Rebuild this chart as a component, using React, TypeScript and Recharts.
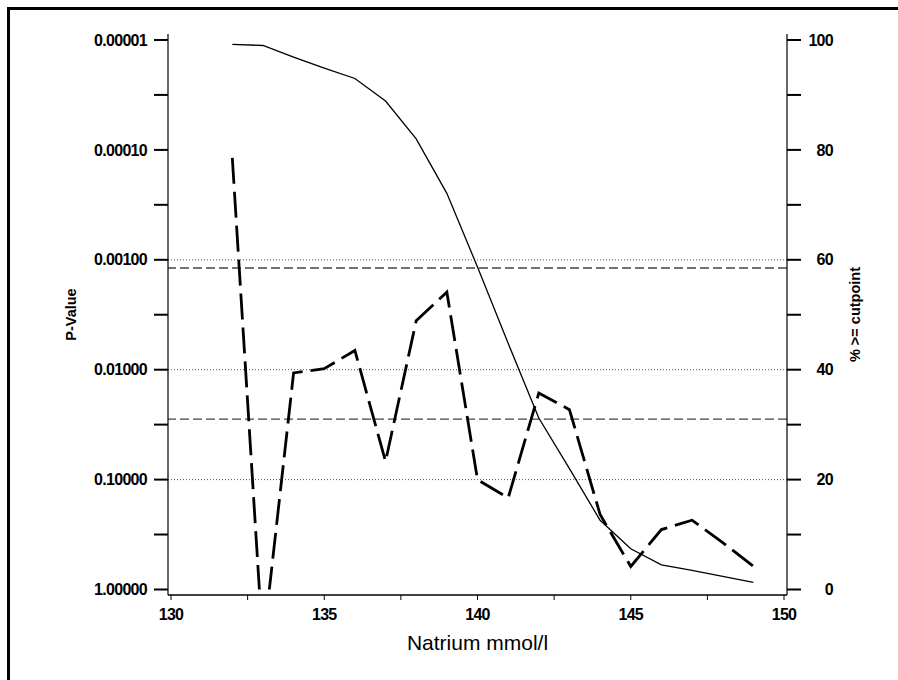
import React from 'react';
import { LineChart, Line, XAxis, YAxis, ReferenceLine } from 'recharts';

// ---- data ----
const natrium = [132, 133, 134, 135, 136, 137, 138, 139, 140, 141, 142, 143, 144, 145, 146, 147, 148, 149];
const pValue = [0.000118, 3.3, 0.0107, 0.0098, 0.00668, 0.0683, 0.00359, 0.00197, 0.1, 0.147, 0.0163, 0.0231, 0.208, 0.617, 0.285, 0.234, 0.374, 0.614];
const pctAboveCutpoint = [99.2, 99.0, 96.9, 94.9, 93.0, 88.9, 82.0, 72.1, 58.7, 44.8, 31.2, 22.0, 12.6, 7.4, 4.5, 3.5, 2.4, 1.3];

const xTicks = [130, 132.5, 135, 137.5, 140, 142.5, 145, 147.5, 150];
const xTickLabels = [130, 135, 140, 145, 150];
const pTicks = [0.00001, 0.0000316, 0.0001, 0.000316, 0.001, 0.00316, 0.01, 0.0316, 0.1, 0.316, 1];
const pTickLabels = [0.00001, 0.0001, 0.001, 0.01, 0.1, 1];
const pctTicks = [0, 10, 20, 30, 40, 50, 60, 70, 80, 90, 100];
const pctTickLabels = [0, 20, 40, 60, 80, 100];
const pReferenceLevels = [0.001, 0.01, 0.1];
const pctReferenceLevels = [58.5, 31];

const data = natrium.map((n, i) => ({ natrium: n, p: pValue[i], pct: pctAboveCutpoint[i] }));

const FONT = '"Liberation Sans", Arial, Helvetica, sans-serif';
const tickFont = { fill: '#000', fontSize: 16, fontWeight: 700, fontFamily: FONT, letterSpacing: -0.7 };

function RightTick(props: any) {
  const { x, y, payload } = props;
  if (!pctTickLabels.includes(payload.value)) return <g />;
  return (
    <text x={x + 24} y={y} dy="0.355em" textAnchor="end" {...tickFont}>
      {payload.value}
    </text>
  );
}

export default function App() {
  return (
    <div style={{ position: 'absolute', left: 0, top: 0, width: 898, height: 680, overflow: 'hidden', background: '#fff' }}>
      <div style={{ position: 'absolute', left: 7, top: 7, width: 891, height: 3, background: '#000' }} />
      <div style={{ position: 'absolute', left: 7, top: 7, width: 3, height: 673, background: '#000' }} />
      <div style={{ position: 'absolute', left: 8, top: 8 }}>
        <LineChart
          width={870}
          height={672}
          data={data}
          margin={{ top: 26, right: 0, bottom: 0, left: 0 }}
          accessibilityLayer={false}
          style={{ outline: 'none' }}
        >
          <XAxis
            dataKey="natrium"
            type="number"
            domain={[130, 150]}
            ticks={xTicks}
            tickFormatter={(v: number) => (xTickLabels.includes(v) ? String(v) : '')}
            padding={{ left: 3, right: 3 }}
            height={85}
            tickSize={5}
            tickMargin={9}
            tick={tickFont}
            axisLine={{ stroke: '#000', strokeWidth: 1.5 }}
            tickLine={{ stroke: '#000', strokeWidth: 1 }}
            label={{ value: 'Natrium mmol/l', position: 'insideBottom', offset: 30, fill: '#000', fontSize: 21, fontFamily: FONT }}
          />
          <XAxis
            xAxisId="top"
            orientation="top"
            type="number"
            domain={[130, 150]}
            height={0}
            tick={false}
            tickLine={false}
            axisLine={{ stroke: '#000', strokeWidth: 1 }}
          />
          <YAxis
            yAxisId="p"
            orientation="left"
            scale="log"
            type="number"
            domain={[0.00001, 1]}
            allowDataOverflow
            reversed
            ticks={pTicks}
            tickFormatter={(v: number) => (pTickLabels.includes(v) ? v.toFixed(5) : '')}
            padding={{ top: 6, bottom: 5.5 }}
            width={160}
            tickSize={14}
            tickMargin={7}
            tick={tickFont}
            axisLine={{ stroke: '#000', strokeWidth: 1.2 }}
            tickLine={{ stroke: '#000', strokeWidth: 2 }}
            label={{
              content: () => (
                <text
                  x={62.5}
                  y={306.5}
                  transform="rotate(-90 62.5 306.5)"
                  textAnchor="middle"
                  dominantBaseline="central"
                  fill="#000"
                  fontSize={14.5}
                  fontWeight={700}
                  fontFamily={FONT}
                >
                  P-Value
                </text>
              ),
            }}
          />
          <YAxis
            yAxisId="pct"
            orientation="right"
            type="number"
            domain={[0, 100]}
            ticks={pctTicks}
            padding={{ top: 6, bottom: 5.5 }}
            width={91}
            tickSize={14}
            tickMargin={8}
            tick={<RightTick />}
            axisLine={{ stroke: '#000', strokeWidth: 1.2 }}
            tickLine={{ stroke: '#000', strokeWidth: 2 }}
            label={{
              content: () => (
                <text
                  x={847}
                  y={306.5}
                  transform="rotate(-90 847 306.5)"
                  textAnchor="middle"
                  dominantBaseline="central"
                  fill="#000"
                  fontSize={14.5}
                  fontWeight={700}
                  fontFamily={FONT}
                >
                  {'% >= cutpoint'}
                </text>
              ),
            }}
          />
          {pReferenceLevels.map((v) => (
            <ReferenceLine key={'p' + v} yAxisId="p" y={v} stroke="#555" strokeWidth={1} strokeDasharray="1 2" />
          ))}
          {pctReferenceLevels.map((v) => (
            <ReferenceLine key={'c' + v} yAxisId="pct" y={v} stroke="#444" strokeWidth={1.4} strokeDasharray="9 4" />
          ))}
          <Line
            yAxisId="pct"
            dataKey="pct"
            type="linear"
            stroke="#000"
            strokeWidth={1.3}
            dot={false}
            activeDot={false}
            isAnimationActive={false}
          />
          <Line
            yAxisId="p"
            dataKey="p"
            type="linear"
            stroke="#000"
            strokeWidth={2.8}
            strokeDasharray="26 8"
            dot={false}
            activeDot={false}
            isAnimationActive={false}
          />
        </LineChart>
      </div>
    </div>
  );
}
